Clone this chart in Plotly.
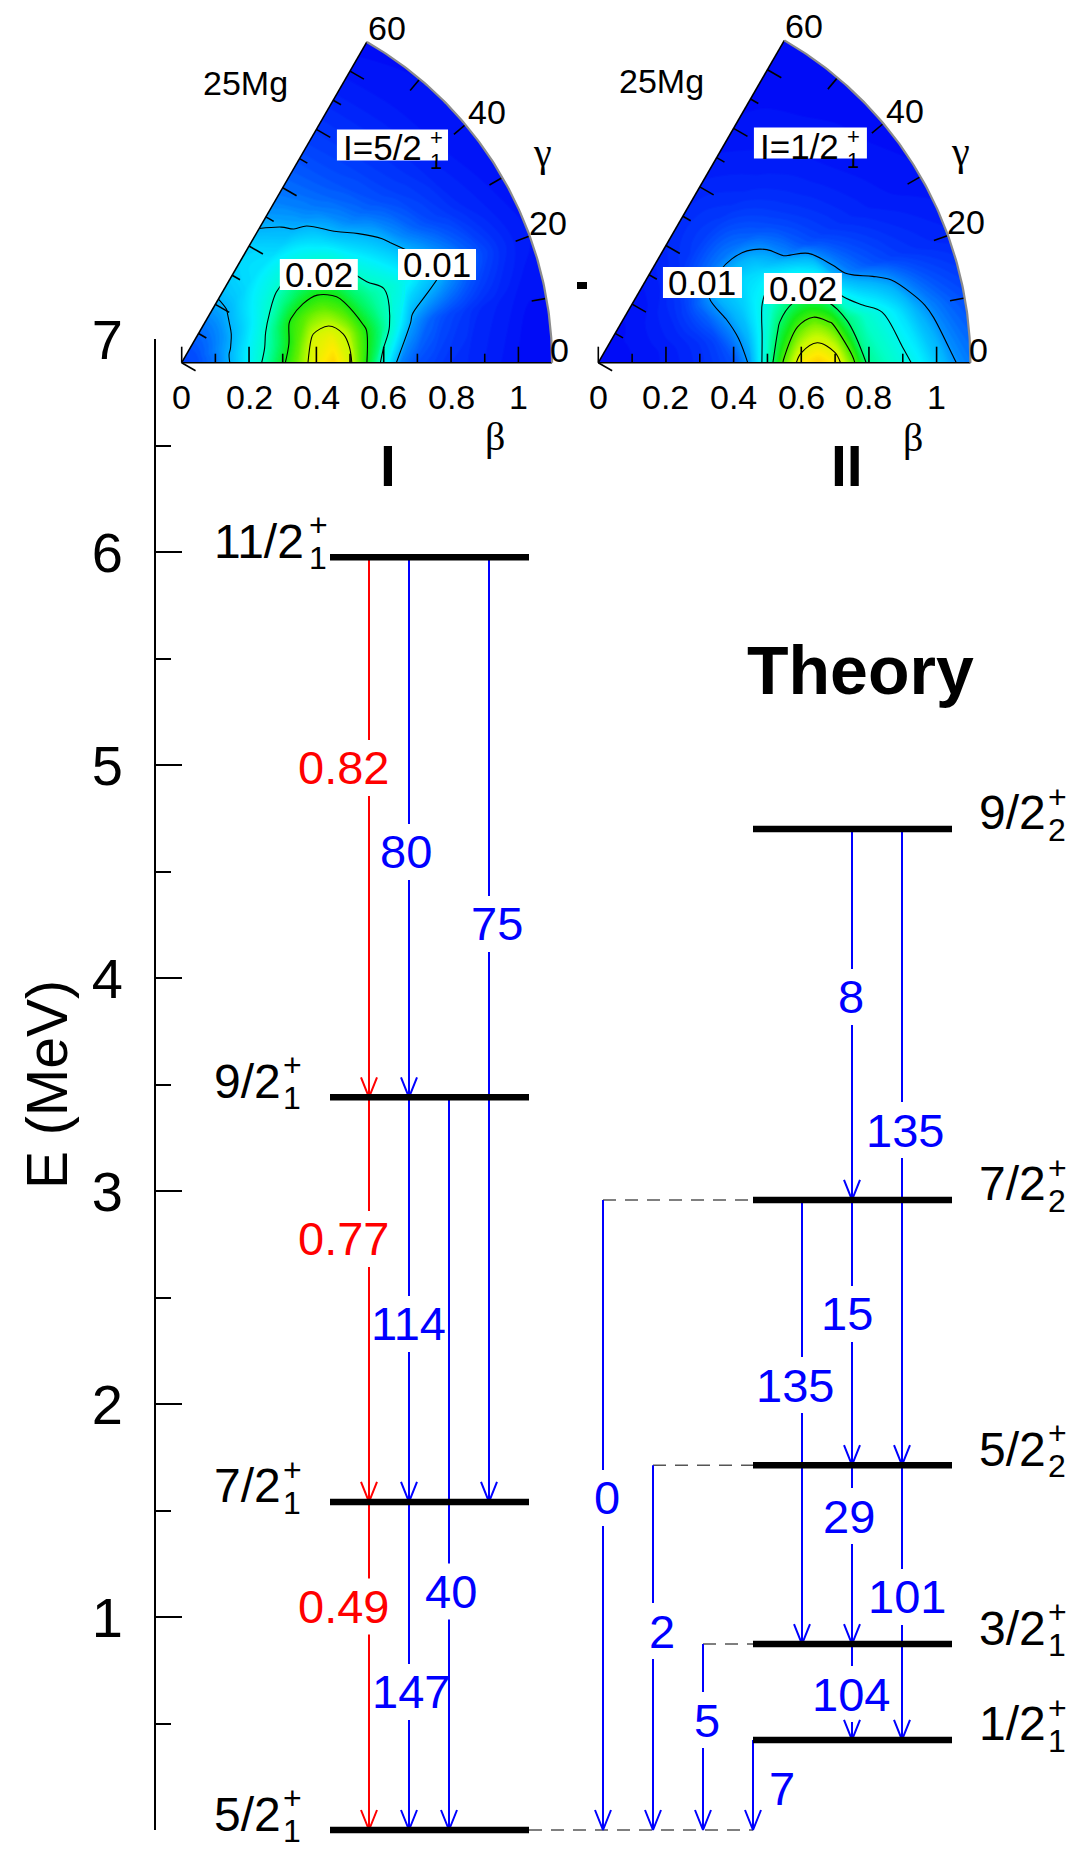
import math
import plotly.graph_objects as go

W, H = 1075, 1854
SANS = "Liberation Sans, Arial, Helvetica, sans-serif"
SERIF = "Liberation Serif, DejaVu Serif, serif"
BLUE, RED, BLACK = "#0000ff", "#ff0000", "#000000"

# ---------------- level energies (MeV) ----------------
exp_levels = ["5/2_1", "7/2_1", "9/2_1", "11/2_1"]
exp_energy = [0.0, 1.54, 3.44, 5.975]

th_levels = ["1/2_1", "3/2_1", "5/2_2", "7/2_2", "9/2_2"]
th_energy = [0.423, 0.873, 1.713, 2.958, 4.70]

# ---------------- transitions ----------------
# ratios along band I (red)
ratio_from = ["11/2_1", "9/2_1", "7/2_1"]
ratio_to = ["9/2_1", "7/2_1", "5/2_1"]
ratio_text = ["0.82", "0.77", "0.49"]

# B(E2) values, band I (blue)
band_from = ["11/2_1", "11/2_1", "9/2_1", "9/2_1", "7/2_1"]
band_to = ["9/2_1", "7/2_1", "7/2_1", "5/2_1", "5/2_1"]
band_text = ["80", "75", "114", "40", "147"]

# B(E2) values, band II (blue)
th_from = ["9/2_2", "9/2_2", "7/2_2", "7/2_2", "7/2_2", "5/2_2", "5/2_2", "5/2_2", "3/2_1", "3/2_1", "1/2_1"]
th_to = ["7/2_2", "5/2_2", "5/2_2", "3/2_1", "5/2_1", "3/2_1", "1/2_1", "5/2_1", "1/2_1", "5/2_1", "5/2_1"]
th_text = ["8", "135", "15", "135", "0", "29", "101", "2", "104", "5", "7"]

# ---------------- collective wave-function densities on the (beta, gamma) plane ----------------
beta_nodes = [0.00, 0.05, 0.10, 0.15, 0.20, 0.25, 0.30, 0.35, 0.40, 0.45, 0.50, 0.55,
              0.60, 0.65, 0.70, 0.75, 0.80, 0.85, 0.90, 0.95, 1.00, 1.05, 1.10]
gamma_nodes = [0, 10, 20, 30, 40, 50, 60]

# state I = 5/2+_1 (rows: gamma = 0, 10, ..., 60)
density_I = [
    [0.004, 0.005, 0.007, 0.0105, 0.0155, 0.0215, 0.0288, 0.0365, 0.0435, 0.047, 0.0412, 0.030,
     0.0175, 0.0075, 0.005, 0.004, 0.003, 0.0025, 0.002, 0.0015, 0.001, 0.001, 0.001],
    [0.004, 0.005, 0.007, 0.0105, 0.015, 0.020, 0.0265, 0.034, 0.0415, 0.043, 0.039, 0.031,
     0.024, 0.0165, 0.0085, 0.006, 0.0045, 0.0035, 0.0025, 0.002, 0.0015, 0.001, 0.001],
    [0.004, 0.005, 0.0072, 0.0096, 0.0135, 0.018, 0.0245, 0.0315, 0.035, 0.0355, 0.032, 0.026,
     0.022, 0.0195, 0.0165, 0.0135, 0.0112, 0.0088, 0.0065, 0.0045, 0.003, 0.002, 0.0015],
    [0.004, 0.005, 0.0068, 0.0088, 0.0118, 0.0155, 0.0198, 0.024, 0.0265, 0.027, 0.0255, 0.021,
     0.0165, 0.0135, 0.0108, 0.008, 0.006, 0.0045, 0.0035, 0.0025, 0.002, 0.0015, 0.001],
    [0.004, 0.005, 0.0065, 0.0082, 0.0108, 0.0138, 0.0163, 0.018, 0.019, 0.0188, 0.0168, 0.0138,
     0.0102, 0.0078, 0.0062, 0.005, 0.004, 0.0033, 0.0026, 0.002, 0.0015, 0.0012, 0.001],
    [0.004, 0.005, 0.0063, 0.0078, 0.0097, 0.0118, 0.0132, 0.014, 0.0138, 0.0125, 0.0107, 0.0088,
     0.0072, 0.006, 0.005, 0.0042, 0.0035, 0.0029, 0.0023, 0.0018, 0.0014, 0.0011, 0.001],
    [0.004, 0.005, 0.0062, 0.0076, 0.0093, 0.0112, 0.0125, 0.013, 0.0124, 0.0103, 0.0088, 0.0075,
     0.0065, 0.0056, 0.0048, 0.004, 0.0034, 0.0028, 0.0022, 0.0017, 0.0013, 0.001, 0.0009],
]

# state I = 1/2+_1
density_II = [
    [0.001, 0.001, 0.0012, 0.0015, 0.002, 0.0025, 0.0033, 0.0045, 0.006, 0.0108, 0.0245, 0.0415,
     0.0535, 0.057, 0.0535, 0.0425, 0.0275, 0.0245, 0.0215, 0.0185, 0.014, 0.0103, 0.0085],
    [0.001, 0.001, 0.0012, 0.0015, 0.002, 0.0026, 0.0035, 0.005, 0.0083, 0.0125, 0.0215, 0.0325,
     0.0405, 0.0435, 0.0395, 0.0285, 0.0235, 0.0203, 0.0165, 0.0118, 0.0088, 0.007, 0.0058],
    [0.001, 0.001, 0.0012, 0.0016, 0.0022, 0.003, 0.0045, 0.0068, 0.0103, 0.0138, 0.0185, 0.0232,
     0.0255, 0.0255, 0.0205, 0.0118, 0.0083, 0.0065, 0.0052, 0.0042, 0.0035, 0.003, 0.0026],
    [0.001, 0.001, 0.0012, 0.0016, 0.0022, 0.003, 0.0047, 0.0078, 0.0115, 0.0142, 0.0155, 0.015,
     0.0122, 0.0088, 0.0065, 0.005, 0.004, 0.0032, 0.0026, 0.0021, 0.0018, 0.0015, 0.0013],
    [0.001, 0.001, 0.0012, 0.0015, 0.002, 0.0027, 0.0038, 0.0055, 0.0072, 0.0082, 0.0085, 0.0078,
     0.0065, 0.0052, 0.0041, 0.0033, 0.0027, 0.0022, 0.0018, 0.0015, 0.0013, 0.0011, 0.001],
    [0.001, 0.001, 0.0011, 0.0013, 0.0016, 0.002, 0.0026, 0.0033, 0.004, 0.0045, 0.0046, 0.0043,
     0.0037, 0.0031, 0.0026, 0.0022, 0.0019, 0.0016, 0.0014, 0.0012, 0.0011, 0.001, 0.0009],
    [0.001, 0.001, 0.001, 0.0012, 0.0014, 0.0017, 0.0021, 0.0025, 0.0029, 0.0031, 0.0031, 0.0029,
     0.0026, 0.0022, 0.0019, 0.0016, 0.0014, 0.0012, 0.0011, 0.001, 0.0009, 0.0008, 0.0008],
]

contour_step = 0.01
contour_top_I, contour_top_II = 0.04, 0.05
color_max_I, color_max_II = 0.05, 0.06
beta_ticks = [0, 0.2, 0.4, 0.6, 0.8, 1]
gamma_ticks = [0, 20, 40, 60]

# ---------------- drawing layout (pixels of the page) ----------------
AXIS_X, AXIS_TOP, AXIS_BOTTOM, E_MAX = 155, 339, 1830, 7
PX_PER_MEV = (AXIS_BOTTOM - AXIS_TOP) / E_MAX
EXP_X0, EXP_X1 = 330, 529
TH_X0, TH_X1 = 753, 952
GAP = 28 / PX_PER_MEV
HEAD_H, HEAD_W = 20 / PX_PER_MEV, 8

ratio_x, ratio_tx = [369, 369, 369], [343, 343, 343]
ratio_te = [4.986, 2.775, 1.049]
band_x = [409, 489, 409, 449, 409]
band_tx = [406, 497, 408, 451, 411]
band_te = [4.592, 4.254, 2.376, 1.120, 0.648]
th_x = [852, 902, 852, 802, 603, 852, 902, 653, 852, 703, 753]
th_tx = [851, 905, 847, 795, 607, 849, 907, 662, 851, 707, 782]
th_te = [3.911, 3.286, 2.423, 2.089, 1.559, 1.474, 1.094, 0.934, 0.638, 0.516, 0.197]
th_cut = [True] * 10 + [False]

E_exp = dict(zip(exp_levels, exp_energy))
E_th = dict(zip(th_levels, th_energy))
E_th["5/2_1"] = E_exp["5/2_1"]

CHAR_W = {"/": 0.278, "+": 0.584, "=": 0.584, "I": 0.278}


def text_width(s, size):
    return sum(CHAR_W.get(c, 0.556) for c in s) * size


fig = go.Figure()
annotations = []
shapes = []


def note(x, y, text, size, color=BLACK, xref="paper", yref="paper", xanchor="center",
         yanchor="middle", family=SANS, **kw):
    annotations.append(dict(x=x, y=y, xref=xref, yref=yref, text=text, showarrow=False,
                            xanchor=xanchor, yanchor=yanchor,
                            font=dict(family=family, size=size, color=color), **kw))


def pxx(x):
    return x / W


def pxy(y):
    return 1 - y / H


# the level scheme is drawn on y4: same energy scale as the visible axis,
# spread over the whole page so the ground-state line is not clipped
LS = dict(xaxis="x", yaxis="y4", hoverinfo="skip", showlegend=False)

# ---------------- level scheme ----------------
seg = {BLUE: ([], []), RED: ([], [])}


def add_arrow(x, e0, e1, label, tx, te, color, cut=True):
    xs, ys = seg[color]
    if cut:
        xs += [x, x, None, x, x, None]
        ys += [e0, te + GAP, None, te - GAP, e1, None]
    else:
        xs += [x, x, None]
        ys += [e0, e1, None]
    xs += [x - HEAD_W, x, x + HEAD_W, None]
    ys += [e1 + HEAD_H, e1, e1 + HEAD_H, None]
    note(tx, te, label, 47, color=color, xref="x", yref="y")


for f, t, lab, x, tx, te in zip(ratio_from, ratio_to, ratio_text, ratio_x, ratio_tx, ratio_te):
    add_arrow(x, E_exp[f], E_exp[t], lab, tx, te, RED)
for f, t, lab, x, tx, te in zip(band_from, band_to, band_text, band_x, band_tx, band_te):
    add_arrow(x, E_exp[f], E_exp[t], lab, tx, te, BLUE)

dash_x, dash_y = [EXP_X1, TH_X0, None], [E_exp["5/2_1"], E_exp["5/2_1"], None]
for f, t, lab, x, tx, te, cut in zip(th_from, th_to, th_text, th_x, th_tx, th_te, th_cut):
    add_arrow(x, E_th[f], E_th[t], lab, tx, te, BLUE, cut)
    if x < TH_X0:
        dash_x += [x, TH_X0, None]
        dash_y += [E_th[f], E_th[f], None]

# keeps the visible energy axis attached to its subplot
fig.add_trace(go.Scatter(x=[None], y=[None], mode="lines", xaxis="x", yaxis="y",
                         hoverinfo="skip", showlegend=False))
fig.add_trace(go.Scatter(x=dash_x, y=dash_y, mode="lines",
                         line=dict(color="#555555", width=1.5, dash="13px,9px"), **LS))
for color in (RED, BLUE):
    fig.add_trace(go.Scatter(x=seg[color][0], y=seg[color][1], mode="lines",
                             line=dict(color=color, width=2), **LS))

lvl_x, lvl_y = [], []
for e in exp_energy:
    lvl_x += [EXP_X0, EXP_X1, None]
    lvl_y += [e, e, None]
for e in th_energy:
    lvl_x += [TH_X0, TH_X1, None]
    lvl_y += [e, e, None]
fig.add_trace(go.Scatter(x=lvl_x, y=lvl_y, mode="lines",
                         line=dict(color=BLACK, width=6.5), **LS))


def level_label(x_left, e, key):
    spin, idx = key.split("_")
    wmain = text_width(spin, 48)
    note(x_left, e, spin, 48, xref="x", yref="y", xanchor="left", yshift=16)
    note(x_left, e, "+", 32, xref="x", yref="y", xanchor="left", xshift=wmain + 2, yshift=32)
    note(x_left, e, idx, 32, xref="x", yref="y", xanchor="left", xshift=wmain + 2, yshift=-1)


for key, e in zip(exp_levels, exp_energy):
    level_label(212, e, key)
for key, e in zip(th_levels, th_energy):
    level_label(977, e, key)

note(pxx(47), pxy(1085), "E (MeV)", 57, textangle=-90)
note(pxx(860), pxy(670), "<b>Theory</b>", 68)
note(pxx(388), pxy(466), "<b>I</b>", 57)
note(pxx(847), pxy(466), "<b>II</b>", 57)
shapes.append(dict(type="rect", xref="paper", yref="paper", x0=pxx(577), x1=pxx(587),
                   y0=pxy(289), y1=pxy(282), fillcolor=BLACK, line=dict(width=0), layer="above"))

# ---------------- beta-gamma wedges ----------------
JET = [
    [0.00, "rgb(0,0,245)"], [0.10, "rgb(0,80,255)"], [0.20, "rgb(0,180,255)"],
    [0.30, "rgb(0,240,255)"], [0.40, "rgb(0,255,200)"], [0.50, "rgb(0,250,110)"],
    [0.60, "rgb(20,235,20)"], [0.70, "rgb(100,240,0)"], [0.80, "rgb(200,250,0)"],
    [0.90, "rgb(255,235,0)"], [1.00, "rgb(255,175,0)"],
]
BETA_MAX = beta_nodes[-1]


def wedge(n, ox, oy, R, dom_x, density, cmax, ctop, state, sup, sub, boxes):
    xa, ya = f"x{n}", f"y{n}"
    fig.update_layout(**{
        f"xaxis{n}": dict(domain=[pxx(dom_x[0]), pxx(dom_x[1])],
                          range=[(dom_x[0] - ox) / R, (dom_x[1] - ox) / R],
                          visible=False, anchor=ya, fixedrange=True),
        f"yaxis{n}": dict(domain=[pxy(470), 1], range=[(oy - 470) / R, oy / R],
                          visible=False, anchor=xa, fixedrange=True),
    })
    X = [[b * math.cos(math.radians(g)) for b in beta_nodes] for g in gamma_nodes]
    Y = [[b * math.sin(math.radians(g)) for b in beta_nodes] for g in gamma_nodes]
    hidden = dict(showgrid=False, showline=False, showticklabels="none", startline=False,
                  endline=False, minorgridcount=0, gridcolor="rgba(0,0,0,0)",
                  linecolor="rgba(0,0,0,0)")
    cid = f"c{n}"
    fig.add_trace(go.Carpet(carpet=cid, a=beta_nodes, b=gamma_nodes, x=X, y=Y,
                            aaxis=hidden, baxis=hidden, xaxis=xa, yaxis=ya))
    band = dict(start=0, end=cmax, size=cmax / 100)
    fig.add_trace(go.Contourcarpet(
        carpet=cid, a=beta_nodes, b=gamma_nodes, z=density, autocontour=False,
        contours=dict(**band, coloring="fill", showlines=False),
        line=dict(width=0), colorscale=JET, zmin=0, zmax=cmax, showscale=False,
        xaxis=xa, yaxis=ya))
    # same levels drawn as coloured lines, hiding seams between fill bands
    fig.add_trace(go.Contourcarpet(
        carpet=cid, a=beta_nodes, b=gamma_nodes, z=density, autocontour=False,
        contours=dict(**band, coloring="lines"),
        line=dict(width=1.2), colorscale=JET, zmin=0, zmax=cmax, showscale=False,
        xaxis=xa, yaxis=ya))
    fig.add_trace(go.Contourcarpet(
        carpet=cid, a=beta_nodes, b=gamma_nodes, z=density, autocontour=False,
        contours=dict(start=contour_step, end=ctop, size=contour_step, coloring="none"),
        line=dict(color=BLACK, width=1.1), showscale=False, xaxis=xa, yaxis=ya))

    # frame: beta axis, 60-degree edge and outer arc
    c60, s60 = math.cos(math.radians(60)), math.sin(math.radians(60))
    fx = [0, BETA_MAX, None, 0, BETA_MAX * c60, None]
    fy = [0, 0, None, 0, BETA_MAX * s60, None]
    tl, ts = 16 / R, 9 / R
    for i in range(11):
        b = i / 10
        L = tl if i % 2 == 0 else ts
        fx += [b, b, None]
        fy += [0, L, None]
        px0, py0 = b * c60, b * s60
        fx += [px0, px0 + L * math.cos(math.radians(-30)), None]
        fy += [py0, py0 + L * math.sin(math.radians(-30)), None]
    for g in (10, 20, 30, 40, 50):
        cg, sg = math.cos(math.radians(g)), math.sin(math.radians(g))
        fx += [BETA_MAX * cg, (BETA_MAX - 15 / R) * cg, None]
        fy += [BETA_MAX * sg, (BETA_MAX - 15 / R) * sg, None]
    fig.add_trace(go.Scatter(x=fx, y=fy, mode="lines", line=dict(color=BLACK, width=1.6),
                             xaxis=xa, yaxis=ya, hoverinfo="skip"))
    arc = [g / 2 for g in range(0, 121)]
    fig.add_trace(go.Scatter(x=[BETA_MAX * math.cos(math.radians(g)) for g in arc],
                             y=[BETA_MAX * math.sin(math.radians(g)) for g in arc],
                             mode="lines", line=dict(color="#8c8c8c", width=2.2),
                             xaxis=xa, yaxis=ya, hoverinfo="skip"))

    # tick labels
    for b in beta_ticks:
        note(b, -0.102, f"{b:g}", 34, xref=xa, yref=ya)
    gamma_pos = {0: (1.124, 1.9), 20: (1.164, 20.9), 40: (1.172, 39.4), 60: (1.166, 58.5)}
    for g in gamma_ticks:
        r, ang = gamma_pos[g]
        note(r * math.cos(math.radians(ang)), r * math.sin(math.radians(ang)), str(g), 34,
             xref=xa, yref=ya)
    note(0.930, -0.220, "β", 40, xref=xa, yref=ya, family=SERIF)
    note(1.071, 0.623, "γ", 40, xref=xa, yref=ya, family=SERIF)
    note(0.188, 0.832, "25Mg", 34, xref=xa, yref=ya)

    # state label and contour labels on white boxes
    for (u0, u1, v0, v1, txt) in boxes:
        shapes.append(dict(type="rect", xref=xa, yref=ya, x0=u0, x1=u1, y0=v0, y1=v1,
                           fillcolor="white", line=dict(width=0), layer="above"))
        if txt:
            note((u0 + u1) / 2, (v0 + v1) / 2, txt, 35, xref=xa, yref=ya)
    u_main = boxes[0][0] + 4 / R
    note(u_main, 0.638, state, 35, xref=xa, yref=ya, xanchor="left")
    u_sup = u_main + (text_width(state, 35) + 8) / R
    note(u_sup, 0.668, sup, 22, xref=xa, yref=ya, xanchor="left")
    note(u_sup, 0.598, sub, 22, xref=xa, yref=ya, xanchor="left")


wedge(2, 181.7, 362.7, 336.7, (150, 570), density_I, color_max_I, contour_top_I,
      "I=5/2", "+", "1",
      [(0.461, 0.791, 0.6007, 0.6927, ""),
       (0.2914, 0.5230, 0.2158, 0.3079, "0.02"),
       (0.6424, 0.8741, 0.2456, 0.3376, "0.01")])
wedge(3, 598.3, 362.7, 338.3, (580, 1000), density_II, color_max_II, contour_top_II,
      "I=1/2", "+", "1",
      [(0.460, 0.794, 0.6034, 0.6951, ""),
       (0.1911, 0.4247, 0.1912, 0.2828, "0.01"),
       (0.4896, 0.7201, 0.1735, 0.2651, "0.02")])

fig.update_layout(
    width=W, height=H, margin=dict(l=0, r=0, t=0, b=0, pad=0, autoexpand=False),
    paper_bgcolor="white", plot_bgcolor="rgba(0,0,0,0)", showlegend=False,
    xaxis=dict(domain=[0, 1], range=[0, W], visible=False, anchor="y", fixedrange=True),
    yaxis=dict(domain=[pxy(AXIS_BOTTOM), pxy(AXIS_TOP)], range=[0, E_MAX], anchor="free",
               position=AXIS_X / W, showline=True, linecolor=BLACK, linewidth=2,
               ticks="inside", ticklen=26, tickwidth=2, tickcolor=BLACK,
               tickvals=list(range(0, E_MAX + 1)), ticklabelstandoff=20,
               tickfont=dict(family=SANS, size=56, color=BLACK),
               minor=dict(dtick=0.5, ticks="inside", ticklen=15, tickwidth=2, tickcolor=BLACK),
               showgrid=False, zeroline=False, fixedrange=True),
    yaxis4=dict(domain=[0, 1], anchor="x", visible=False, fixedrange=True,
                range=[-(H - AXIS_BOTTOM) / PX_PER_MEV, AXIS_BOTTOM / PX_PER_MEV]),
    annotations=annotations, shapes=shapes,
)

fig.write_html("out.html")
